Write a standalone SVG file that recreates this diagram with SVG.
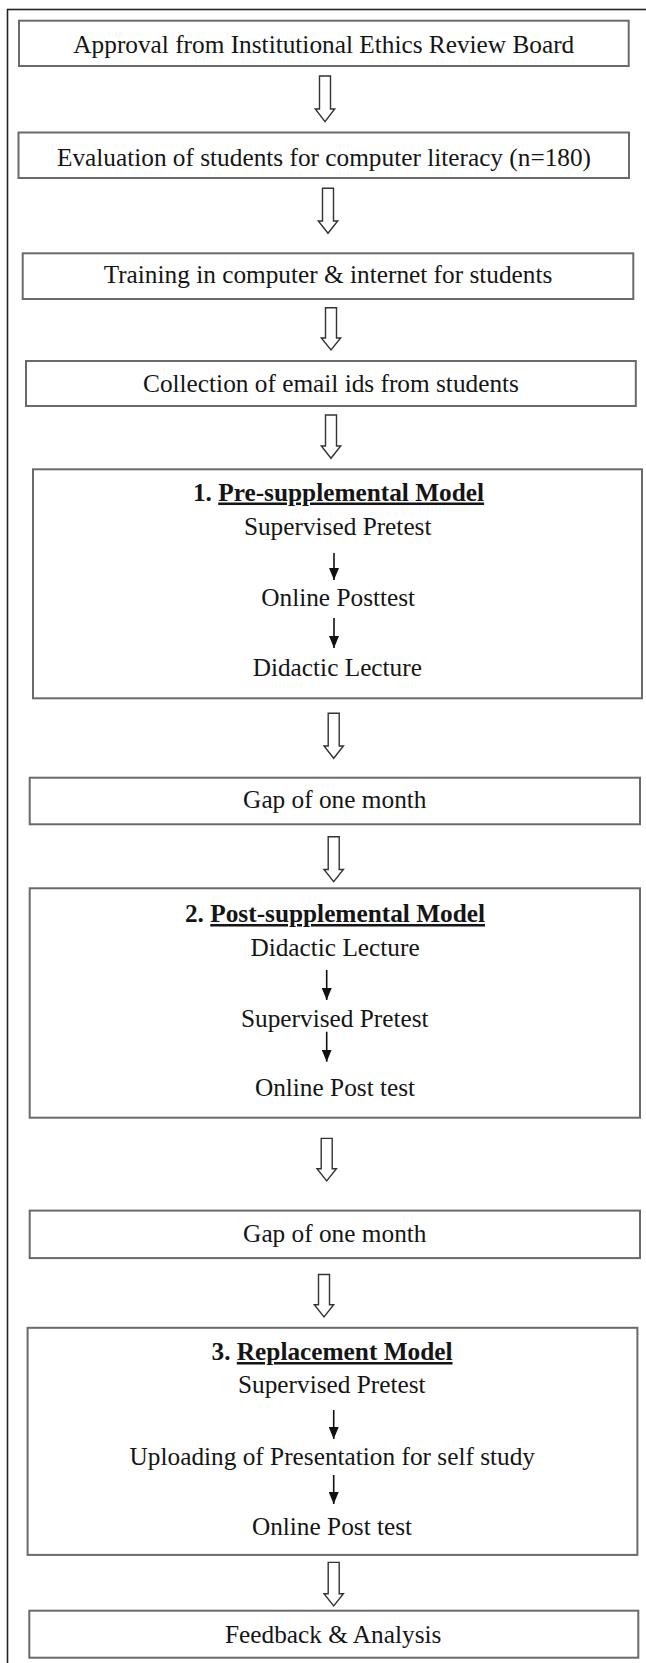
<svg xmlns="http://www.w3.org/2000/svg" width="646" height="1663" viewBox="0 0 646 1663">
<style>
.box{fill:#fff;stroke:#6a6a6a;stroke-width:2}
.t{font-family:"Liberation Serif","Times New Roman",serif;font-size:25.3px;fill:#151515;text-anchor:middle}
.b{font-weight:bold}
.u{text-decoration:underline}
.ho{fill:#fff;stroke:#333;stroke-width:1.4;stroke-linejoin:miter}
.sl{stroke:#111;stroke-width:1.6;fill:none}
</style>
<defs>
<marker id="ah" viewBox="0 0 12 10" refX="12" refY="5" markerWidth="12" markerHeight="10" markerUnits="userSpaceOnUse" orient="auto">
<path d="M0,0 L12,5 L0,10 Z" fill="#111"/>
</marker>
</defs>
<rect x="7.5" y="9.5" width="660" height="1670" fill="none" stroke="#222" stroke-width="1.6"/>
<g id="n1"><rect class="box" x="19" y="20.7" width="609.7" height="45.3"/><text class="t" x="323.8" y="52.5">Approval from Institutional Ethics Review Board</text></g>
<g id="n2"><rect class="box" x="18.5" y="132.5" width="610.5" height="45.5"/><text class="t" x="324" y="165.8">Evaluation of students for computer literacy (n=180)</text></g>
<g id="n3"><rect class="box" x="22.7" y="253.3" width="610.6" height="45.7"/><text class="t" x="328" y="283.3">Training in computer &amp; internet for students</text></g>
<g id="n4"><rect class="box" x="26" y="361" width="609.8" height="45"/><text class="t" x="331" y="391.7">Collection of email ids from students</text></g>
<g id="n5"><rect class="box" x="33" y="469.3" width="609" height="229"/>
<text class="t b" x="338.5" y="500.5"><tspan>1. </tspan><tspan class="u">Pre-supplemental Model</tspan></text>
<text class="t" x="337.7" y="535">Supervised Pretest</text>
<text class="t" x="338.2" y="606">Online Posttest</text>
<text class="t" x="337.3" y="676">Didactic Lecture</text></g>
<g id="n6"><rect class="box" x="29.7" y="777.7" width="610.3" height="46.6"/><text class="t" x="334.8" y="808.3">Gap of one month</text></g>
<g id="n7"><rect class="box" x="29.7" y="888.3" width="610.3" height="229.4"/>
<text class="t b" x="335" y="922"><tspan>2. </tspan><tspan class="u">Post-supplemental Model</tspan></text>
<text class="t" x="335" y="956">Didactic Lecture</text>
<text class="t" x="334.8" y="1026.5">Supervised Pretest</text>
<text class="t" x="335" y="1096">Online Post test</text></g>
<g id="n8"><rect class="box" x="29.7" y="1210.6" width="610.3" height="47.5"/><text class="t" x="334.8" y="1242.2">Gap of one month</text></g>
<g id="n9"><rect class="box" x="27.6" y="1327.8" width="609.8" height="227.1"/>
<text class="t b" x="332" y="1360"><tspan>3. </tspan><tspan class="u">Replacement Model</tspan></text>
<text class="t" x="331.8" y="1393.4">Supervised Pretest</text>
<text class="t" x="332.3" y="1465">Uploading of Presentation for self study</text>
<text class="t" x="332" y="1534.5">Online Post test</text></g>
<g id="n10"><rect class="box" x="29.3" y="1610.7" width="609" height="47"/><text class="t" x="333.2" y="1643.3">Feedback &amp; Analysis</text></g>
<g id="connectors">
<path class="ho" d="M319.5,76 H330.5 V109 H334.7 L325,121.7 L315.3,109 H319.5 Z"/>
<path class="ho" d="M322.5,188.3 H333.5 V221 H337.7 L328,233.3 L318.3,221 H322.5 Z"/>
<path class="ho" d="M325.5,307.7 H336.5 V338 H340.7 L331,350 L321.3,338 H325.5 Z"/>
<path class="ho" d="M325.5,415 H336.5 V446 H340.7 L331,458.3 L321.3,446 H325.5 Z"/>
<path class="ho" d="M328.2,713.3 H339.2 V746 H343.4 L333.7,758.3 L324,746 H328.2 Z"/>
<path class="ho" d="M328.2,836.7 H339.2 V869.5 H343.4 L333.7,881.7 L324,869.5 H328.2 Z"/>
<path class="ho" d="M321.2,1138.4 H332.2 V1168.8 H336.4 L326.7,1181 L317,1168.8 H321.2 Z"/>
<path class="ho" d="M318.5,1274.5 H329.5 V1304.8 H333.7 L324,1317 L314.3,1304.8 H318.5 Z"/>
<path class="ho" d="M328.2,1562.4 H339.2 V1593.8 H343.4 L333.7,1606 L324,1593.8 H328.2 Z"/>
<line class="sl" x1="334" y1="553" x2="334" y2="580" marker-end="url(#ah)"/>
<line class="sl" x1="334" y1="618" x2="334" y2="648" marker-end="url(#ah)"/>
<line class="sl" x1="326.7" y1="970" x2="326.7" y2="1000" marker-end="url(#ah)"/>
<line class="sl" x1="326.7" y1="1031.7" x2="326.7" y2="1061.7" marker-end="url(#ah)"/>
<line class="sl" x1="333.7" y1="1410" x2="333.7" y2="1439" marker-end="url(#ah)"/>
<line class="sl" x1="333.7" y1="1475" x2="333.7" y2="1504" marker-end="url(#ah)"/>
</g>
</svg>
